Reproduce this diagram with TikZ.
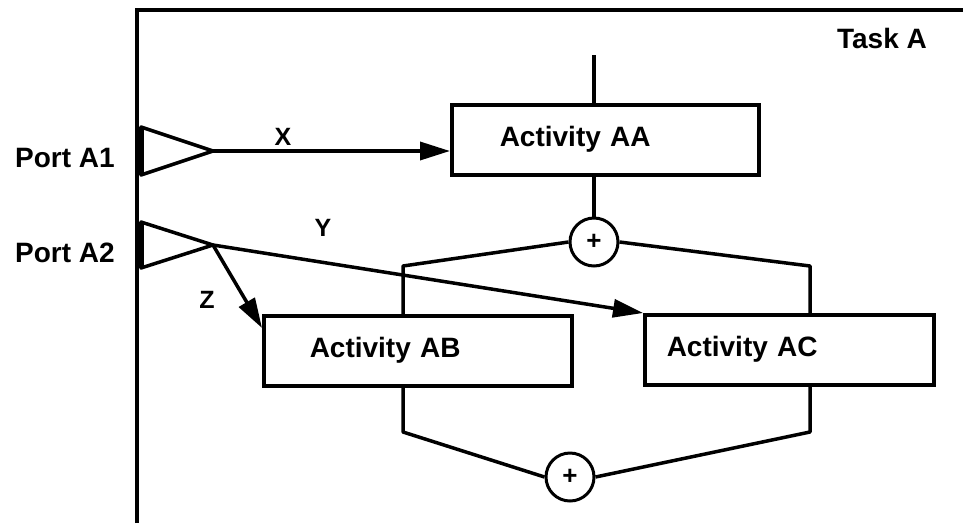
\documentclass[tikz,border=0pt]{standalone}
\usepackage{fontspec}
\setmainfont{Liberation Sans}
\usepackage{tikz}
\usetikzlibrary{positioning,arrows.meta,calc}

\begin{document}
\begin{tikzpicture}[
    x=1pt, y=-1pt,
    >={Triangle[length=30pt, width=18pt]},
    wire/.style={line width=3.5pt},
    frame/.style={line width=4pt},
    activity/.style={draw, line width=3.5pt, anchor=north west,
                     minimum height=70pt, inner ysep=0pt, align=left,
                     font=\bfseries\fontsize{28}{32}\selectfont},
    junction/.style={circle, draw, line width=3pt, minimum size=48pt,
                     inner sep=0pt, font=\bfseries\fontsize{26}{26}\selectfont},
    lbl/.style={anchor=base, font=\bfseries\fontsize{28}{32}\selectfont},
    flowlbl/.style={font=\bfseries\fontsize{25}{28}\selectfont},
]
\useasboundingbox (0,0) rectangle (963,523);

% Task frame
\draw[frame] (137,523) -- (137,10) -- (963,10);
\node[lbl] (task) at (882,48) {Task A};

% Ports
\coordinate (pa1) at (213,151);
\coordinate (pa2) at (213,245);
\draw[wire, line join=round] (141,127) -- (pa1) -- (141,175) -- cycle;
\draw[wire, line join=round] (141,222) -- (pa2) -- (141,268) -- cycle;
\draw[line width=5pt] (141,127) -- (141,175);
\draw[line width=5pt] (141,222) -- (141,268);
\node[lbl] (porta1) at (65,167) {Port A1};
\node[lbl] (porta2) at (65,262) {Port A2};

% Activities
\node[activity, inner xsep=48pt, text width=211pt] (aa) at (450,103) {Activity AA};
\node[activity, inner xsep=46pt, text width=216pt] (ab) at (262,314) {Activity AB};
\node[activity, inner xsep=22pt, text width=245pt] (ac) at (643,313) {Activity AC};

% Split and join
\node[junction] (split) at (594,242) {+};
\node[junction] (join) at (570,477) {+};
\coordinate (tin) at (594,55);
\coordinate (sl) at (403,266);
\coordinate (sr) at (810,266);
\coordinate (jl) at (403,432);
\coordinate (jr) at (810,432);

\draw[wire] (tin) -- (tin |- aa.north);
\draw[wire] (aa.south -| split) -- (split);
\draw[wire, line join=round] (split.west) -- (sl) -- (sl |- ab.north);
\draw[wire, line join=round] (split.east) -- (sr) -- (sr |- ac.north);
\draw[wire, line join=round] (jl |- ab.south) -- (jl) -- (join.west);
\draw[wire, line join=round] (jr |- ac.south) -- (jr) -- (join.east);

% Data flows
\draw[wire, ->] (pa1) -- (pa1 -| aa.west);
\draw[wire, ->] (pa2) -- (ac.north west);
\draw[wire, ->] (pa2) -- ([yshift=-14pt]ab.north west);
\node[flowlbl] (x) at (283,137) {X};
\node[flowlbl] (y) at (323,228) {Y};
\node[flowlbl] (z) at (207,300) {Z};
\end{tikzpicture}
\end{document}
